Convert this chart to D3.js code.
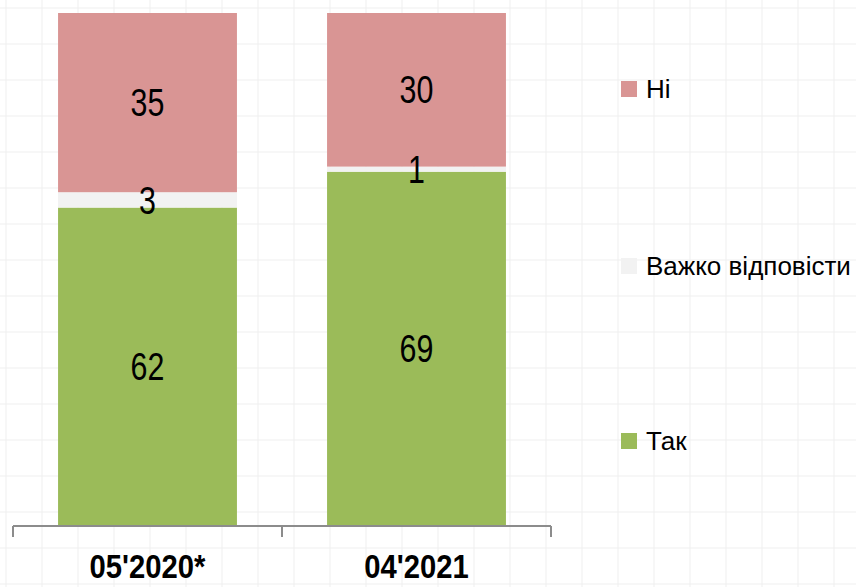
<!DOCTYPE html>
<html><head><meta charset="utf-8">
<script src="https://cdn.jsdelivr.net/npm/d3@7"></script>
<style>body{margin:0;background:#fff}svg{display:block}</style>
</head><body>
<svg id="chart" width="856" height="587"></svg>
<script>
const categories = ["05'2020*", "04'2021"];
const seriesNames = ["Так", "Важко відповісти", "Ні"];
const tak = [62, 69];
const vazhko = [3, 1];
const ni = [35, 30];
const colors = ["#9BBB59", "#F2F2F2", "#D99594"];

const svg = d3.select("#chart");
const W = 856, H = 587;
const font = "'Liberation Sans','Arial',sans-serif";

// faint background grid
const bg = svg.append("g");
for (let x = 6; x < W; x += 36) bg.append("line").attr("x1", x).attr("x2", x).attr("y1", 0).attr("y2", H).attr("stroke", "#efefef").attr("stroke-width", 1);
for (let y = 8; y < H; y += 36) bg.append("line").attr("y1", y).attr("y2", y).attr("x1", 0).attr("x2", W).attr("stroke", "#efefef").attr("stroke-width", 1);

const x = d3.scaleBand().domain(categories).range([13, 551]).paddingInner(0.335).paddingOuter(0.1675);
const y = d3.scaleLinear().domain([0, 100]).range([525, 13]);

const table = categories.map((c, i) => ({cat: c, "Так": tak[i], "Важко відповісти": vazhko[i], "Ні": ni[i]}));
const stack = d3.stack().keys(seriesNames)(table);

stack.forEach((layer, li) => {
  const g = svg.append("g");
  g.selectAll("rect").data(layer).join("rect")
    .attr("x", d => x(d.data.cat))
    .attr("width", x.bandwidth())
    .attr("y", d => y(d[1]))
    .attr("height", d => y(d[0]) - y(d[1]))
    .attr("fill", colors[li]);
});
stack.forEach((layer, li) => {
  svg.append("g").selectAll("text").data(layer).join("text")
    .attr("transform", d => `translate(${x(d.data.cat) + x.bandwidth() / 2},${(y(d[0]) + y(d[1])) / 2}) scale(0.8,1)`)
    .attr("dy", "0.36em")
    .attr("text-anchor", "middle")
    .attr("font-family", font)
    .attr("font-size", 38)
    .attr("fill", "#000")
    .text(d => d[1] - d[0]);
});

// axis
const axisG = svg.append("g").attr("transform", "translate(0,526)");
const axisColor = "#8c8c8c";
axisG.append("line").attr("x1", 13).attr("x2", 551).attr("y1", 0).attr("y2", 0).attr("stroke", axisColor).attr("stroke-width", 2);
const tickXs = [x.range()[0], ...categories.slice(1).map(c => x(c) - x.step() * x.paddingInner() / 2), x.range()[1]];
tickXs.forEach(t => axisG.append("line").attr("x1", t).attr("x2", t).attr("y1", 0).attr("y2", 11).attr("stroke", axisColor).attr("stroke-width", 2));
axisG.selectAll("text.cat").data(categories).join("text")
  .attr("class", "cat")
  .attr("transform", d => `translate(${x(d) + x.bandwidth() / 2},52) scale(0.86,1)`)
  .attr("text-anchor", "middle")
  .attr("font-family", font)
  .attr("font-weight", "bold")
  .attr("font-size", 34)
  .text(d => d);

// legend
const legendItems = [
  {name: "Ні", color: colors[2], y: 89},
  {name: "Важко відповісти", color: colors[1], y: 266},
  {name: "Так", color: colors[0], y: 441}
];
const lg = svg.append("g");
legendItems.forEach(it => {
  lg.append("rect").attr("x", 621).attr("y", it.y - 8).attr("width", 16).attr("height", 16).attr("fill", it.color);
  lg.append("text").attr("x", 646).attr("y", it.y).attr("dy", "0.36em")
    .attr("font-family", font).attr("font-size", 26).attr("fill", "#000").text(it.name);
});
</script>
</body></html>
